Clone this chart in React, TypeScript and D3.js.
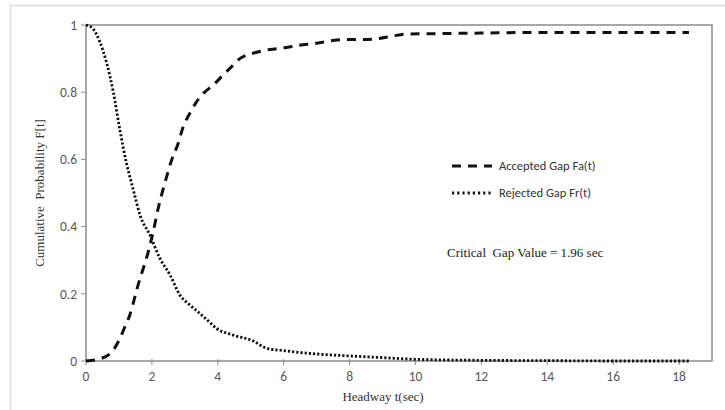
import React from 'react'
import * as d3 from 'd3'

// headway (sec) and cumulative probabilities
const acceptedT = [0, 0.47, 0.83, 1.03, 1.18, 1.33, 1.43, 1.58, 1.74, 1.89, 2.04, 2.19, 2.32, 2.42, 2.6, 2.8, 2.95, 3.15, 3.36, 3.58, 3.86, 4.16, 4.42, 4.67, 5.07, 5.58, 6.03, 6.48, 6.94, 7.44, 7.9, 8.4, 8.9, 9.3, 9.7, 10.5, 12, 14, 16, 18.3]
const acceptedF = [0, 0.008, 0.033, 0.067, 0.102, 0.137, 0.171, 0.226, 0.276, 0.325, 0.385, 0.454, 0.504, 0.539, 0.598, 0.648, 0.697, 0.737, 0.772, 0.798, 0.821, 0.851, 0.876, 0.9, 0.916, 0.927, 0.932, 0.94, 0.945, 0.953, 0.957, 0.957, 0.96, 0.967, 0.973, 0.974, 0.976, 0.978, 0.978, 0.978]

const rejectedT = [0, 0.2, 0.42, 0.63, 0.83, 1.03, 1.23, 1.38, 1.46, 1.64, 1.94, 2.24, 2.55, 2.85, 3.15, 3.45, 3.68, 3.96, 4.47, 5.07, 5.48, 5.98, 6.99, 8.0, 9.0, 10, 12, 14, 16, 18.3]
const rejectedF = [1, 0.99, 0.95, 0.886, 0.8, 0.687, 0.588, 0.53, 0.5, 0.434, 0.375, 0.306, 0.256, 0.196, 0.167, 0.142, 0.122, 0.097, 0.077, 0.06, 0.038, 0.031, 0.021, 0.015, 0.01, 0.005, 0.002, 0.001, 0.0, 0.0]

const xTicks = [0, 2, 4, 6, 8, 10, 12, 14, 16, 18]
const yTicks = [0, 0.2, 0.4, 0.6, 0.8, 1]

const seriesNames = ['Accepted Gap Fa(t)', 'Rejected Gap Fr(t)']

function App() {
  const width = 725
  const height = 410
  const plot = { left: 86, right: 712, top: 25, bottom: 361 }

  const x = d3.scaleLinear().domain([0, 19]).range([plot.left, plot.right])
  const y = d3.scaleLinear().domain([0, 1]).range([plot.bottom, plot.top])

  const line = d3.line<[number, number]>()
    .x(d => x(d[0]))
    .y(d => y(d[1]))
    .curve(d3.curveMonotoneX)

  const accepted = acceptedT.map((t, i) => [t, acceptedF[i]] as [number, number])
  const rejected = rejectedT.map((t, i) => [t, rejectedF[i]] as [number, number])

  const sans = 'Carlito, "Liberation Sans", Arial, sans-serif'
  const serif = '"Liberation Serif", "Times New Roman", serif'
  const axisColor = '#8c8c8c'

  return (
    <svg width={width} height={height} style={{ position: 'absolute', left: 0, top: 0 }}>
      <rect x={0} y={0} width={width} height={height} fill="#fff" />
      {/* outer chart frame */}
      <rect x={10.5} y={5.5} width={730} height={420} fill="none" stroke="#e3e3e3" strokeWidth={2} />

      {/* plot area border */}
      <rect x={plot.left} y={plot.top} width={plot.right - plot.left} height={plot.bottom - plot.top}
        fill="none" stroke={axisColor} strokeWidth={1.5} />

      {/* y ticks */}
      {yTicks.map(tick => <g key={tick} transform={`translate(0 ${y(tick)})`}>
        <line x1={plot.left - 5} x2={plot.left} stroke={axisColor} strokeWidth={1} />
        <text x={plot.left - 9} dy="0.35em" textAnchor="end" fontFamily={sans} fontSize={13.5} fill="#595959">{tick}</text>
      </g>)}

      {/* x ticks */}
      {xTicks.map(tick => <g key={tick} transform={`translate(${x(tick)} 0)`}>
        <line y1={plot.bottom - 2} y2={plot.bottom + 4} stroke={axisColor} strokeWidth={1} />
        <text y={plot.bottom + 20} textAnchor="middle" fontFamily={sans} fontSize={13.5} fill="#595959">{tick}</text>
      </g>)}

      {/* axis titles */}
      <text x={383} y={401} textAnchor="middle" fontFamily={serif} fontSize={13} fill="#333">Headway t(sec)</text>
      <text transform={`translate(44 ${(plot.top + plot.bottom) / 2}) rotate(-90)`} textAnchor="middle"
        fontFamily={serif} fontSize={13} fill="#333" xmlSpace="preserve">Cumulative  Probability F[t]</text>

      {/* curves */}
      <path d={line(accepted) ?? ''} fill="none" stroke="#111" strokeWidth={3} strokeDasharray="9 7" />
      <path d={line(rejected) ?? ''} fill="none" stroke="#111" strokeWidth={2.8} strokeDasharray="2.2 2" />

      {/* legend */}
      <g transform="translate(452 166)">
        <line x1={0} x2={40} stroke="#111" strokeWidth={3} strokeDasharray="9 7" />
        <text x={47} dy="0.35em" fontFamily={sans} fontSize={12.5} fill="#333">{seriesNames[0]}</text>
      </g>
      <g transform="translate(452 193)">
        <line x1={0} x2={40} stroke="#111" strokeWidth={2.8} strokeDasharray="2.2 3" />
        <text x={47} dy="0.35em" fontFamily={sans} fontSize={12.5} fill="#333">{seriesNames[1]}</text>
      </g>

      <text x={447} y={257} fontFamily={serif} fontSize={13} fill="#222" xmlSpace="preserve">Critical  Gap Value = 1.96 sec</text>
    </svg>
  )
}

export default App
